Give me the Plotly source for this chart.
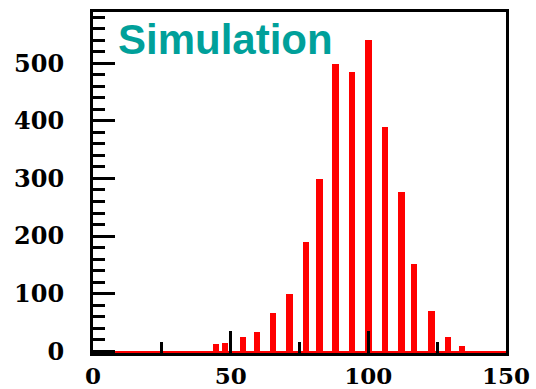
import plotly.graph_objects as go

# Histogram bins (bin centre) and counts
bin_centers = [44.7, 48.0, 54.4, 59.6, 65.4, 71.4, 77.3, 82.3, 88.1, 94.1,
               100.1, 106.1, 112.1, 116.7, 122.9, 128.9, 134.0]
counts = [12, 15, 24, 33, 66, 99, 190, 299, 499, 484,
          541, 390, 276, 151, 70, 24, 9]

# Empty bins shown as a flat line along the bottom axis
baseline_x = [8, 150]
baseline_y = [-1.5, -1.5]

x_ticks = [0, 50, 100, 150]
y_ticks = [0, 100, 200, 300, 400, 500]

RED = "#ff0000"
TEAL = "#00a09a"

fig = go.Figure()
fig.add_trace(go.Scatter(
    x=baseline_x, y=baseline_y, mode="lines",
    line=dict(color=RED, width=2.5), hoverinfo="skip", showlegend=False,
))
fig.add_trace(go.Bar(
    x=bin_centers, y=counts, width=2.3,
    marker=dict(color=RED, line=dict(width=0)), showlegend=False,
))

x_font = dict(family="DejaVu Serif", size=23, color="black", weight="bold")
y_font = dict(family="DejaVu Serif", size=24, color="black", weight="bold")

fig.update_xaxes(
    range=[0, 150], tickvals=x_ticks, ticktext=[str(v) for v in x_ticks],
    showline=True, linecolor="black", linewidth=3, mirror=True,
    ticks="inside", ticklen=22, tickwidth=3, tickcolor="black",
    minor=dict(dtick=25, tick0=0, ticks="inside", ticklen=11,
               tickwidth=3, tickcolor="black"),
    showgrid=False, zeroline=False, tickfont=x_font,
    automargin=False, ticklabelstandoff=0,
)
fig.update_yaxes(
    range=[-3, 589], tickvals=y_ticks, ticktext=[str(v) for v in y_ticks],
    showline=True, linecolor="black", linewidth=3, mirror=True,
    ticks="inside", ticklen=22, tickwidth=3, tickcolor="black",
    minor=dict(dtick=20, tick0=0, ticks="inside", ticklen=12,
               tickwidth=3, tickcolor="black"),
    showgrid=False, zeroline=False, tickfont=y_font,
    ticklabelstandoff=21, automargin=False,
)

fig.add_annotation(
    text="Simulation", xref="paper", yref="paper",
    x=0.055, y=0.918, xanchor="left", yanchor="middle", showarrow=False,
    font=dict(family="Liberation Sans", size=42, color=TEAL, weight="bold"),
)

fig.update_layout(
    width=536, height=389,
    margin=dict(l=93, r=30, t=12, b=36),
    paper_bgcolor="white", plot_bgcolor="white",
    bargap=0,
)

fig.write_html("out.html")
